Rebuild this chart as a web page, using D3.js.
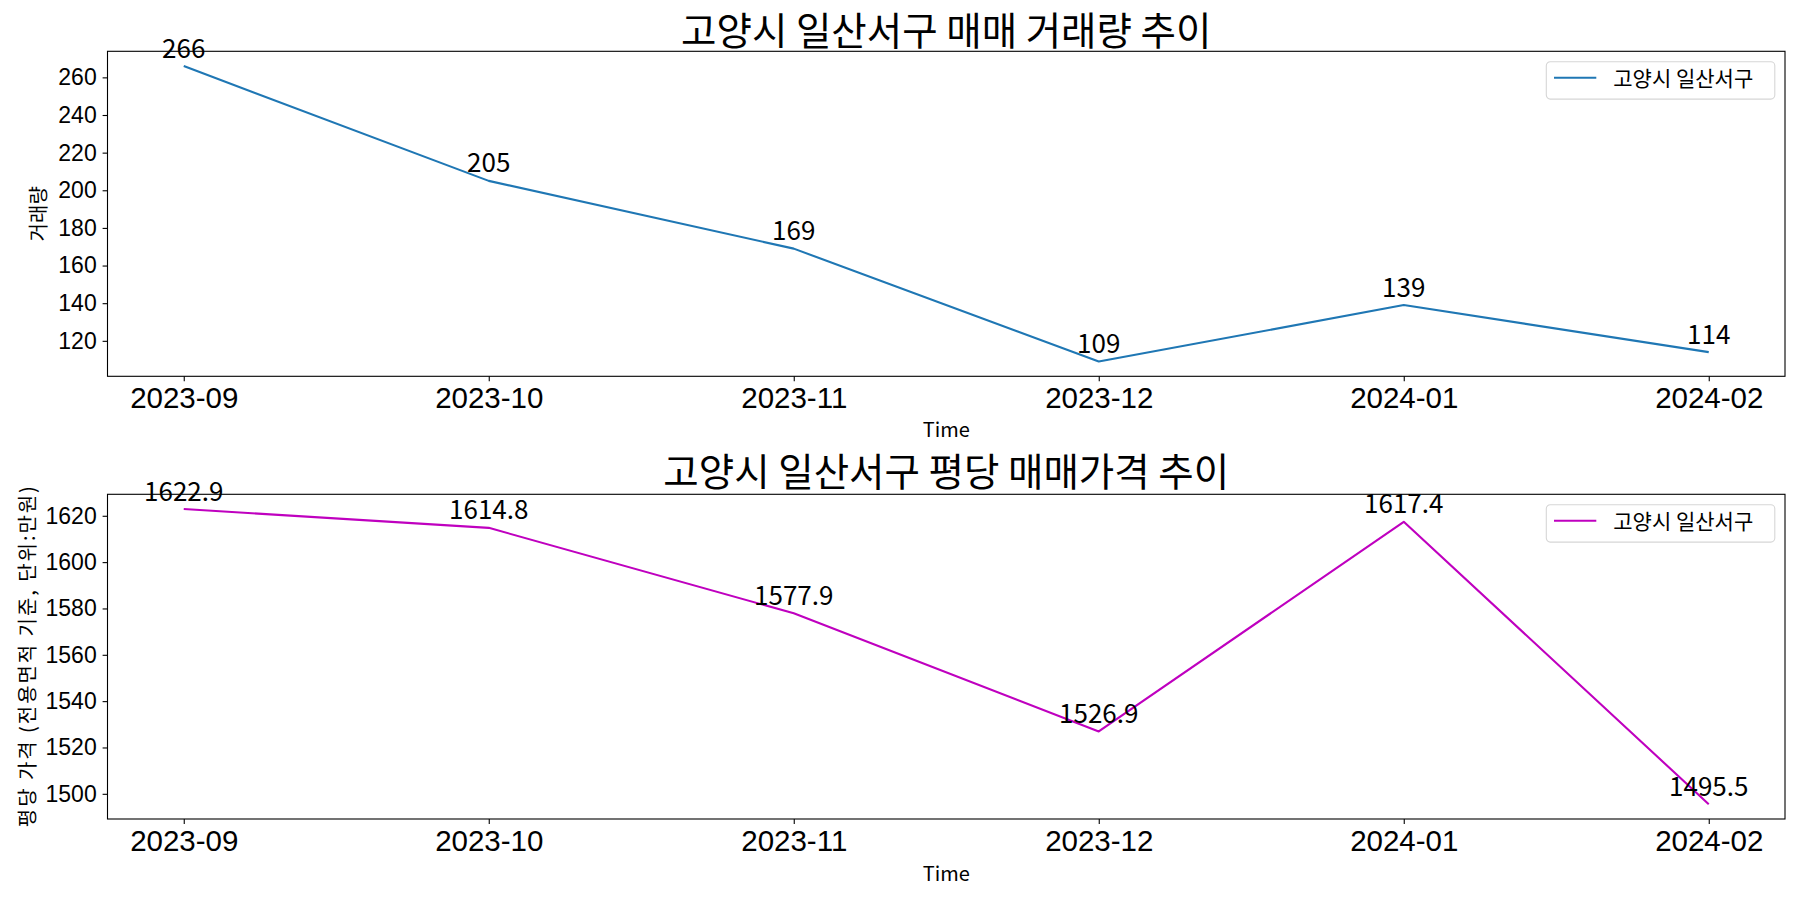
<!DOCTYPE html>
<html>
<head>
<meta charset="utf-8">
<script src="https://cdn.jsdelivr.net/npm/d3@7"></script>
<style>
  body { margin: 0; background: #fff; }
  svg { display: block; font-family: "Noto Sans CJK KR", "Noto Sans", sans-serif; }
</style>
</head>
<body>
<svg id="chart" width="1800" height="900"></svg>
<script>
// 데이터
var months = ["2023-09", "2023-10", "2023-11", "2023-12", "2024-01", "2024-02"];
var volume = [266, 205, 169, 109, 139, 114];
var price = [1622.9, 1614.8, 1577.9, 1526.9, 1617.4, 1495.5];
var volumeTicks = [120, 140, 160, 180, 200, 220, 240, 260];
var priceTicks = [1500, 1520, 1540, 1560, 1580, 1600, 1620];
var seriesName = "고양시 일산서구";

var svg = d3.select("#chart");
svg.append("rect").attr("width", 1800).attr("height", 900).attr("fill", "#fff");

var left = 107.5, right = 1785;
var tickLen = 4.9;

// x축은 두 패널 공통
var xScale = d3.scalePoint().domain(months).range([left, right]).padding(0.25);

function drawPanel(opt) {
  var values = opt.values;
  var lo = d3.min(values), hi = d3.max(values), pad = (hi - lo) * 0.05;
  var yScale = d3.scaleLinear().domain([lo - pad, hi + pad]).range([opt.bottom, opt.top]);

  var g = svg.append("g");

  // 제목
  g.append("text")
    .attr("x", (left + right) / 2)
    .attr("y", opt.titleY)
    .attr("text-anchor", "middle")
    .style("font-size", "38.5px")
    .text(opt.title);

  // x축
  var xAxis = g.append("g")
    .attr("transform", "translate(0," + opt.bottom + ")")
    .call(d3.axisBottom(xScale).tickSize(tickLen).tickPadding(tickLen).tickSizeOuter(0));
  xAxis.select(".domain").remove();
  xAxis.selectAll("text").style("font-size", "29.5px").attr("fill", "#000").attr("dy", "0.74em");
  xAxis.selectAll("line").attr("stroke", "#000").attr("stroke-width", 1.1);

  // y축
  var yAxis = g.append("g")
    .attr("transform", "translate(" + left + ",0)")
    .call(d3.axisLeft(yScale).tickValues(opt.ticks).tickFormat(d3.format("d"))
      .tickSize(tickLen).tickPadding(tickLen + 1).tickSizeOuter(0));
  yAxis.select(".domain").remove();
  yAxis.selectAll("text").style("font-size", "23px").attr("fill", "#000");
  yAxis.selectAll("line").attr("stroke", "#000").attr("stroke-width", 1.1);

  // 축 라벨
  g.append("text")
    .attr("x", (left + right) / 2)
    .attr("y", opt.xLabelY)
    .attr("text-anchor", "middle")
    .style("font-size", "20px")
    .text("Time");
  var yl = g.append("text")
    .attr("transform", "translate(" + opt.yLabelX + "," + (opt.top + opt.bottom) / 2 + ") rotate(-90)")
    .attr("text-anchor", "middle")
    .style("font-size", "20px")
    .text(opt.yLabel);
  if (opt.yLabelLen) {
    yl.attr("textLength", opt.yLabelLen).attr("lengthAdjust", "spacing");
  }

  // 선
  var line = d3.line()
    .x(function (d, i) { return xScale(months[i]); })
    .y(function (d) { return yScale(d); });
  g.append("path")
    .datum(values)
    .attr("fill", "none")
    .attr("stroke", opt.color)
    .attr("stroke-width", 2.1)
    .attr("stroke-linejoin", "round")
    .attr("d", line);

  // 값 라벨
  g.selectAll(".lbl")
    .data(values)
    .enter()
    .append("text")
    .attr("x", function (d, i) { return xScale(months[i]); })
    .attr("y", function (d) { return yScale(d) - 8.5; })
    .attr("text-anchor", "middle")
    .style("font-size", "26px")
    .text(function (d) { return opt.fmt(d); });

  // 테두리
  g.append("rect")
    .attr("x", left)
    .attr("y", opt.top)
    .attr("width", right - left)
    .attr("height", opt.bottom - opt.top)
    .attr("fill", "none")
    .attr("stroke", "#000")
    .attr("stroke-width", 1.1);

  // 범례
  var lg = g.append("g").attr("transform", "translate(1546.3," + (opt.top + 10.4) + ")");
  lg.append("rect")
    .attr("width", 228.5)
    .attr("height", 37.4)
    .attr("rx", 4)
    .attr("ry", 4)
    .attr("fill", "rgba(255,255,255,0.8)")
    .attr("stroke", "#d6d6d6")
    .attr("stroke-width", 1.1);
  lg.append("line")
    .attr("x1", 7.7).attr("x2", 50)
    .attr("y1", 16).attr("y2", 16)
    .attr("stroke", opt.color)
    .attr("stroke-width", 2.1);
  lg.append("text")
    .attr("x", 67)
    .attr("y", 24.5)
    .style("font-size", "21px")
    .text(seriesName);
}

drawPanel({
  values: volume,
  ticks: volumeTicks,
  top: 51.3,
  bottom: 376.3,
  titleY: 45,
  xLabelY: 437,
  yLabelX: 46,
  title: "고양시 일산서구 매매 거래량 추이",
  yLabel: "거래량",
  color: "#1f77b4",
  fmt: function (d) { return String(d); }
});

drawPanel({
  values: price,
  ticks: priceTicks,
  top: 494.3,
  bottom: 819,
  titleY: 486,
  xLabelY: 881,
  yLabelX: 35,
  yLabelLen: 341,
  title: "고양시 일산서구 평당 매매가격 추이",
  yLabel: "평당 가격 (전용면적 기준, 단위:만원)",
  color: "#bf00bf",
  fmt: function (d) { return d.toFixed(1); }
});
</script>
</body>
</html>
